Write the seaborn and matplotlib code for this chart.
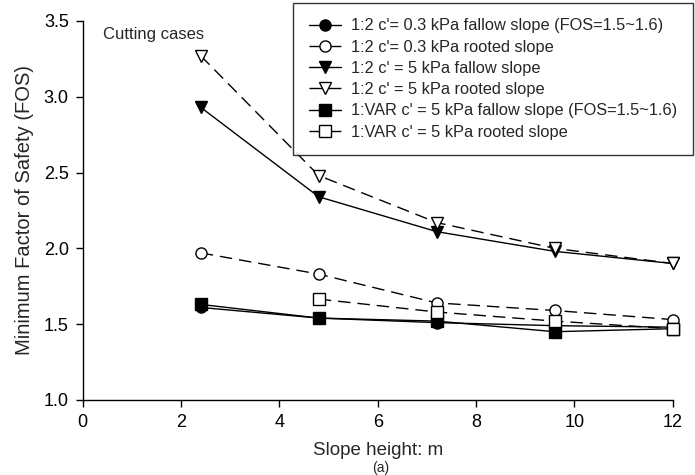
import matplotlib
matplotlib.use("Agg")
import matplotlib.pyplot as plt
import seaborn as sns
import pandas as pd

heights = [2.4, 4.8, 7.2, 9.6, 12.0]
circle_fallow = [1.61, 1.54, 1.51, 1.49, 1.48]
circle_rooted = [1.97, 1.83, 1.64, 1.59, 1.53]
tri_fallow = [2.93, 2.34, 2.11, 1.98, 1.90]
tri_rooted = [3.27, 2.48, 2.17, 2.00, 1.90]
square_fallow = [1.63, 1.54, 1.52, 1.45, 1.47]
square_heights = [4.8, 7.2, 9.6, 12.0]
square_rooted = [1.665, 1.58, 1.52, 1.47]

labels = [
    "1:2 c'= 0.3 kPa fallow slope (FOS=1.5~1.6)",
    "1:2 c'= 0.3 kPa rooted slope",
    "1:2 c' = 5 kPa fallow slope",
    "1:2 c' = 5 kPa rooted slope",
    "1:VAR c' = 5 kPa fallow slope (FOS=1.5~1.6)",
    "1:VAR c' = 5 kPa rooted slope",
]

sns.set_style("ticks")
plt.rcParams["font.family"] = ["Liberation Sans", "DejaVu Sans"]

fig = plt.figure(figsize=(6.95, 4.75), dpi=100)
ax = fig.add_axes([0.119, 0.158, 0.849, 0.798])

dashed = (0, (9, 5))
series = [
    (heights, circle_fallow, "o", "black", "-"),
    (heights, circle_rooted, "o", "white", dashed),
    (heights, tri_fallow, "v", "black", "-"),
    (heights, tri_rooted, "v", "white", dashed),
    (heights, square_fallow, "s", "black", "-"),
    (square_heights, square_rooted, "s", "white", dashed),
]

for (x, y, mk, fc, ls), lab in zip(series, labels):
    df = pd.DataFrame({"h": x, "fos": y})
    sns.lineplot(data=df, x="h", y="fos", ax=ax, color="black", linestyle=ls,
                 linewidth=1.0, marker=mk, markersize=8, markerfacecolor=fc,
                 markeredgecolor="black", markeredgewidth=1.0, label=lab,
                 clip_on=False, zorder=3)

ax.set_xlim(0, 12)
ax.set_ylim(1.0, 3.5)
ax.set_xticks([0, 2, 4, 6, 8, 10, 12])
ax.set_yticks([1.0, 1.5, 2.0, 2.5, 3.0, 3.5])
ax.set_yticklabels(["1.0", "1.5", "2.0", "2.5", "3.0", "3.5"])
ax.tick_params(direction="out", length=5, width=1, labelsize=13, colors="black", pad=5)
sns.despine(ax=ax)
for s in ["left", "bottom"]:
    ax.spines[s].set_linewidth(1.0)
    ax.spines[s].set_color("black")
ax.set_xlabel("Slope height: m", fontsize=13.5, labelpad=8)
ax.set_ylabel("Minimum Factor of Safety (FOS)", fontsize=14.5, labelpad=7)
ax.text(0.42, 3.41, "Cutting cases", fontsize=12, ha="left", va="center")

leg = ax.legend(loc="upper right", bbox_to_anchor=(0.997, 0.994),
                bbox_transform=fig.transFigure, fontsize=11.8, frameon=True,
                fancybox=False, edgecolor="black", handlelength=2.0,
                handletextpad=0.6, borderpad=0.95, labelspacing=0.38,
                borderaxespad=0)
leg.get_frame().set_linewidth(1.0)

fig.text(0.548, 0.0, "(a)", fontsize=10, ha="center", va="bottom")

fig.savefig("out.png", dpi=100)
